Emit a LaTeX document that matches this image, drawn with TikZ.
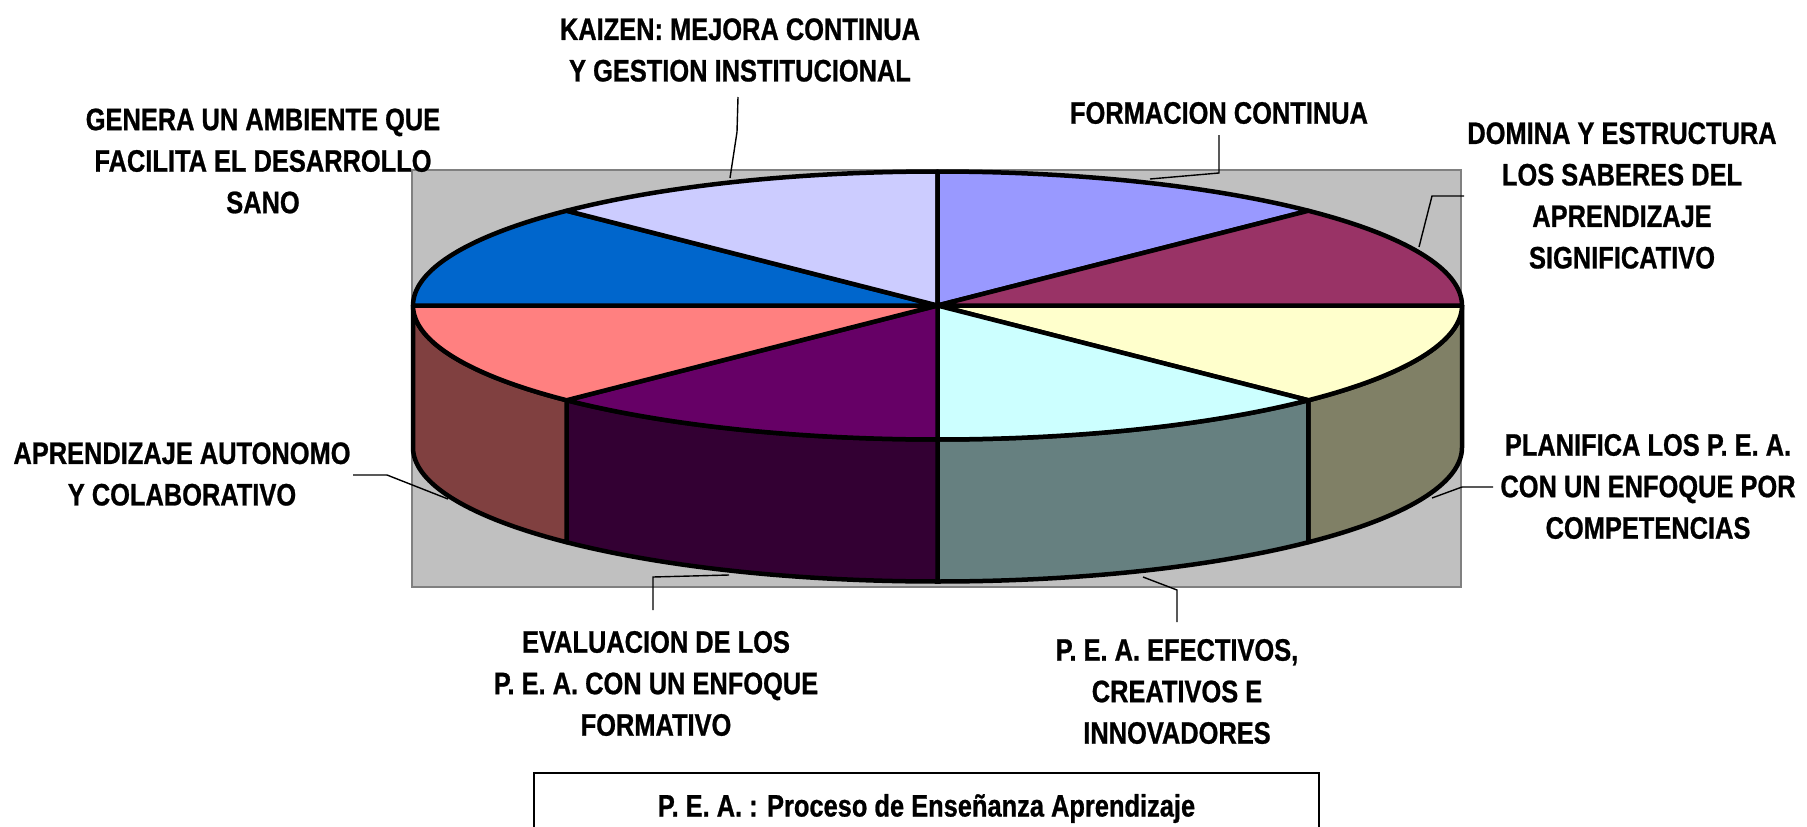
\documentclass[tikz,border=0pt]{standalone}
\usepackage{fontspec}
\setmainfont[FakeStretch=0.82,FakeBold=0.8]{Liberation Sans}
\usetikzlibrary{calc}
\definecolor{bggray}{HTML}{C0C0C0}
\definecolor{bgedge}{HTML}{808080}
\definecolor{cKaizen}{HTML}{CCCCFF}
\definecolor{cFormacion}{HTML}{9999FF}
\definecolor{cDomina}{HTML}{993366}
\definecolor{cPlanifica}{HTML}{FFFFCC}
\definecolor{cPlanificaS}{HTML}{808066}
\definecolor{cEfectivos}{HTML}{CCFFFF}
\definecolor{cEfectivosS}{HTML}{668080}
\definecolor{cEvaluacion}{HTML}{660066}
\definecolor{cEvaluacionS}{HTML}{330033}
\definecolor{cAutonomo}{HTML}{FF8080}
\definecolor{cAutonomoS}{HTML}{804040}
\definecolor{cGenera}{HTML}{0066CC}
\def\cx{937.5}\def\cy{305.5}\def\ra{524.5}\def\rb{134}\def\hh{142}
\newcommand\lblfont{\fontsize{31}{41.5}\selectfont\bfseries}
\newcommand\topslice[3]{\filldraw[pieline, fill=#1] (\cx,\cy) -- plot[domain=#2:#3, samples=80] ({\cx+\ra*cos(\x)},{\cy+\rb*sin(\x)}) -- cycle;}
\newcommand\sideface[3]{\filldraw[pieline, fill=#1] plot[domain=#2:#3, samples=80] ({\cx+\ra*cos(\x)},{\cy+\rb*sin(\x)}) -- plot[domain=#3:#2, samples=80] ({\cx+\ra*cos(\x)},{\cy+\hh+\rb*sin(\x)}) -- cycle;}
\begin{document}
\begin{tikzpicture}[x=1pt,y=-1pt,
  pieline/.style={line width=4.5pt, line join=round, draw=black},
  leader/.style={line width=1.4pt, draw=black},
  lbl/.style={font=\lblfont, align=center, inner sep=0pt}]
\useasboundingbox (0,0) rectangle (1807,827);
\fill[white] (0,0) rectangle (1807,827);
% plot area
\filldraw[fill=bggray, draw=bgedge, line width=1.5pt] (412,170) rectangle (1461,587);
% side faces
\sideface{cPlanificaS}{0}{45}
\sideface{cEfectivosS}{45}{90}
\sideface{cEvaluacionS}{90}{135}
\sideface{cAutonomoS}{135}{180}
% top slices
\topslice{cPlanifica}{0}{45}
\topslice{cEfectivos}{45}{90}
\topslice{cEvaluacion}{90}{135}
\topslice{cAutonomo}{135}{180}
\topslice{cGenera}{180}{225}
\topslice{cKaizen}{225}{270}
\topslice{cFormacion}{270}{315}
\topslice{cDomina}{315}{360}
% labels
\node[lbl] (kaizen) at (740,50) {KAIZEN: MEJORA CONTINUA\\Y GESTION INSTITUCIONAL};
\node[lbl] (genera) at (263,161) {GENERA UN AMBIENTE QUE\\FACILITA EL DESARROLLO\\SANO};
\node[lbl] (formacion) at (1219,113) {FORMACION CONTINUA};
\node[lbl] (domina) at (1622,195.5) {DOMINA Y ESTRUCTURA\\LOS SABERES DEL\\APRENDIZAJE\\SIGNIFICATIVO};
\node[lbl] (planifica) at (1648,486.5) {PLANIFICA LOS P. E. A.\\CON UN ENFOQUE POR\\COMPETENCIAS};
\node[lbl] (autonomo) at (182,474) {APRENDIZAJE AUTONOMO\\Y COLABORATIVO};
\node[lbl] (evaluacion) at (656,683.5) {EVALUACION DE LOS\\P. E. A. CON UN ENFOQUE\\FORMATIVO};
\node[lbl] (efectivos) at (1177,691.5) {P. E. A. EFECTIVOS,\\CREATIVOS E\\INNOVADORES};
\node[draw, line width=1.5pt, minimum width=785pt, minimum height=71pt, font=\lblfont, inner sep=0pt] (legend) at (926.5,808.5) {P. E. A. : Proceso de Enseñanza Aprendizaje};
% leader lines
\coordinate (kzA) at (738,97); \coordinate (kzB) at (737,132); \coordinate (kzC) at (730,178);
\draw[leader] (kzA) -- (kzB) -- (kzC);
\coordinate (fcA) at (1219,135); \coordinate (fcB) at (1219,173); \coordinate (fcC) at (1150,179);
\draw[leader] (fcA) -- (fcB) -- (fcC);
\coordinate (dmA) at (1464,196); \coordinate (dmB) at (1432,196); \coordinate (dmC) at (1419,247);
\draw[leader] (dmA) -- (dmB) -- (dmC);
\coordinate (plA) at (1493,487); \coordinate (plB) at (1462,487); \coordinate (plC) at (1432,498);
\draw[leader] (plA) -- (plB) -- (plC);
\coordinate (auA) at (353,475); \coordinate (auB) at (387,475); \coordinate (auC) at (448,499);
\draw[leader] (auA) -- (auB) -- (auC);
\coordinate (evA) at (653,610); \coordinate (evB) at (653,577); \coordinate (evC) at (729,575);
\draw[leader] (evA) -- (evB) -- (evC);
\coordinate (efA) at (1177,622); \coordinate (efB) at (1177,590); \coordinate (efC) at (1143,577);
\draw[leader] (efA) -- (efB) -- (efC);
\end{tikzpicture}
\end{document}
